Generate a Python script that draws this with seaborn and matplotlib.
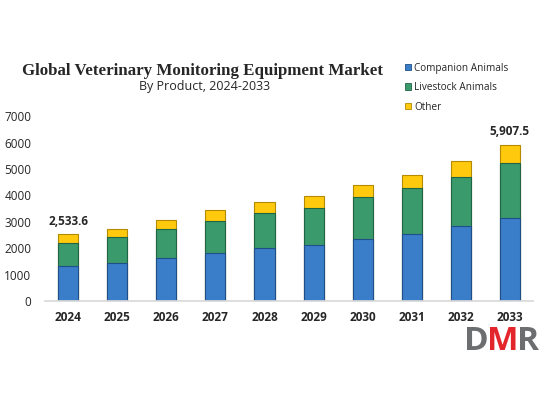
import numpy as np
import pandas as pd
import matplotlib
matplotlib.use('Agg')
import matplotlib.pyplot as plt
import seaborn as sns
from matplotlib.patches import Patch

years = ['2024', '2025', '2026', '2027', '2028', '2029', '2030', '2031', '2032', '2033']
companion = [1320, 1450, 1640, 1840, 2000, 2120, 2345, 2560, 2850, 3150]
livestock = [900, 980, 1080, 1210, 1340, 1420, 1590, 1715, 1850, 2095]
other = [313.6, 290, 370, 390, 410, 445, 455, 515, 600, 662.5]
series = ['Companion Animals', 'Livestock Animals', 'Other']
colors = ['#3a7dc9', '#3a9a6c', '#ffc90e']
edges = ['#1f4f86', '#1f6444', '#b38a00']

df = pd.DataFrame({'Year': years, 'Companion': companion,
                   'Livestock': livestock, 'Other': other})
df['lvl1'] = df['Companion']
df['lvl2'] = df['Companion'] + df['Livestock']
df['lvl3'] = df['lvl2'] + df['Other']

sns.set_theme(style='white')
plt.rcParams['font.family'] = ['Open Sans', 'DejaVu Sans']

fig = plt.figure(figsize=(5.5, 4.12), dpi=100)
ax = fig.add_axes([0.082, 0.269, 0.887, 0.449])

# stacked bars drawn back to front using cumulative heights
for col, c, e in zip(['lvl3', 'lvl2', 'lvl1'], colors[::-1], edges[::-1]):
    sns.barplot(data=df, x='Year', y=col, order=years, color=c,
                width=0.41, edgecolor=e, linewidth=0.8, ax=ax, saturation=1)

ax.set_ylim(0, 7000)
ax.set_xlim(-0.47, 9.47)
ax.set_yticks(range(0, 7001, 1000))
ax.set_xlabel('')
ax.set_ylabel('')
ax.tick_params(axis='y', labelsize=8.5, length=0, pad=10)
ax.tick_params(axis='x', labelsize=8.5, length=0, pad=7)
for lbl in ax.get_xticklabels():
    lbl.set_fontweight('bold')
for s in ['top', 'right', 'left']:
    ax.spines[s].set_visible(False)
ax.spines['bottom'].set_color('#d9d9d9')

first_total = df['lvl3'].iloc[0]
last_total = df['lvl3'].iloc[-1]
ax.text(0, first_total + 250, f'{first_total:,.1f}', ha='center', va='bottom',
        fontsize=8.5, fontweight='bold')
ax.text(9, last_total + 250, f'{last_total:,.1f}', ha='center', va='bottom',
        fontsize=8.5, fontweight='bold')

fig.text(0.368, 0.828, 'Global Veterinary Monitoring Equipment Market',
         ha='center', va='center', fontsize=12.2, fontweight='bold',
         family=['Liberation Serif', 'DejaVu Serif'])
fig.text(0.372, 0.79, 'By Product, 2024-2033', ha='center', va='center', fontsize=9)

handles = [Patch(facecolor=c, edgecolor=e, linewidth=0.6) for c, e in zip(colors, edges)]
fig.legend(handles, series, loc='upper left', bbox_to_anchor=(0.72, 0.87),
           frameon=False, fontsize=7.2, handlelength=0.6, handleheight=0.6,
           handletextpad=0.3, labelspacing=0.85)

# DMR logo
fig.text(0.843, 0.172, 'D', color='#6d6e70', fontsize=24, fontweight='bold', va='center', ha='left')
fig.text(0.885, 0.172, 'M', color='#e3262c', fontsize=24, fontweight='bold', va='center', ha='left')
fig.text(0.94, 0.172, 'R', color='#6d6e70', fontsize=24, fontweight='bold', va='center', ha='left')

fig.savefig('out.png', dpi=100)
